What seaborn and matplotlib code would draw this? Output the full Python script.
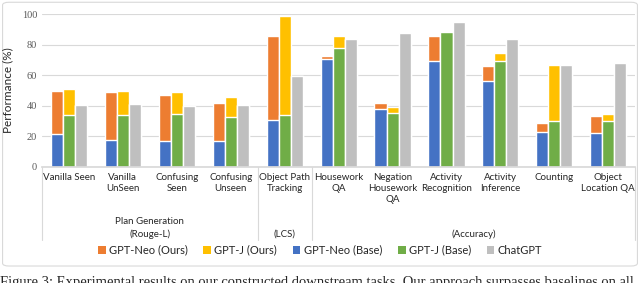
import matplotlib
matplotlib.use("Agg")
import matplotlib.pyplot as plt
import pandas as pd
import seaborn as sns
from matplotlib.patches import FancyBboxPatch, Patch

sns.set_theme(style="white")
plt.rcParams["font.family"] = ["Lato", "DejaVu Sans"]

tasks = [
    "Vanilla Seen", "Vanilla\nUnSeen", "Confusing\nSeen", "Confusing\nUnseen",
    "Object Path\nTracking", "Housework\nQA", "Negation\nHousework\nQA",
    "Activity\nRecognition", "Activity\nInference", "Counting", "Object\nLocation QA",
]
neo_base = [21.4, 17.6, 17.0, 17.2, 30.7, 70.4, 38.1, 69.3, 56.4, 22.7, 22.2]
neo_ours = [49.7, 49.2, 46.9, 42.0, 85.8, 72.3, 41.6, 85.6, 66.0, 28.8, 33.3]
gptj_base = [34.2, 34.2, 34.8, 32.9, 33.8, 78.0, 35.3, 88.0, 69.3, 30.3, 29.9]
gptj_ours = [51.2, 49.9, 48.8, 45.5, 98.7, 85.4, 39.4, 88.7, 74.5, 66.9, 34.6]
chatgpt = [40.5, 41.2, 40.0, 40.7, 59.5, 83.9, 87.8, 95.0, 83.7, 66.5, 67.8]

groups = ["Plan Generation\n(Rouge-L)", "(LCS)", "(Accuracy)"]
group_spans = [(0, 3), (4, 4), (5, 10)]

colors = {
    "GPT-Neo (Ours)": "#ED7D31",
    "GPT-J (Ours)": "#FFC000",
    "GPT-Neo (Base)": "#4472C4",
    "GPT-J (Base)": "#70AD47",
    "ChatGPT": "#BFBFBF",
}

models = ["neo", "gptj", "chat"]
top = pd.DataFrame({
    "task": tasks * 3,
    "model": sum([[m] * len(tasks) for m in models], []),
    "value": neo_ours + gptj_ours + chatgpt,
})
base = pd.DataFrame({
    "task": tasks * 3,
    "model": sum([[m] * len(tasks) for m in models], []),
    "value": neo_base + gptj_base + chatgpt,
})

fig = plt.figure(figsize=(6.4, 2.83), dpi=100)
frame = FancyBboxPatch((0.004, 0.06), 0.992, 0.932, boxstyle="round,pad=0,rounding_size=0.01",
                       transform=fig.transFigure, facecolor="none", edgecolor="#D9D9D9",
                       linewidth=0.8, zorder=-1)
fig.patches.append(frame)

ax = fig.add_axes([0.0656, 0.41, 0.927, 0.5405])
ax.set_facecolor("none")

sns.barplot(data=top, x="task", y="value", hue="model", hue_order=models,
            palette=[colors["GPT-Neo (Ours)"], colors["GPT-J (Ours)"], colors["ChatGPT"]],
            width=0.67, gap=0, saturation=1, errorbar=None, legend=False, ax=ax)
sns.barplot(data=base, x="task", y="value", hue="model", hue_order=models,
            palette=[colors["GPT-Neo (Base)"], colors["GPT-J (Base)"], colors["ChatGPT"]],
            width=0.67, gap=0, saturation=1, errorbar=None, legend=False, ax=ax)

ax.set_ylim(0, 100)
ax.set_xlim(-0.5, len(tasks) - 0.5)
ax.set_yticks(range(0, 101, 20))
ax.yaxis.grid(True, color="#D9D9D9", linewidth=0.8)
ax.set_axisbelow(True)
for s in ["top", "right", "left"]:
    ax.spines[s].set_visible(False)
ax.spines["bottom"].set_color("#D9D9D9")
ax.tick_params(axis="both", length=0)
ax.tick_params(axis="x", pad=4)
for lab in ax.get_yticklabels():
    lab.set_fontfamily("Liberation Serif")
    lab.set_fontsize(7.5)
    lab.set_color("#595959")
for lab in ax.get_xticklabels():
    lab.set_fontsize(7)
    lab.set_linespacing(1.3)
    lab.set_verticalalignment("top")
ax.set_xlabel("")
ax.set_ylabel("Performance (%)", fontsize=8.5, labelpad=6)

xt = ax.get_xaxis_transform()
for xs in [-0.5, 3.5, 4.5, 10.5]:
    ax.plot([xs, xs], [0, -0.477], transform=xt, color="#D9D9D9", linewidth=0.8,
            clip_on=False)
for name, (a, b) in zip(groups, group_spans):
    ax.text((a + b) / 2, -0.47, name, transform=xt, ha="center", va="bottom",
            fontsize=7, linespacing=1.5)

handles = [Patch(facecolor=c, edgecolor="none", label=k) for k, c in colors.items()]
fig.legend(handles=handles, loc="center", bbox_to_anchor=(0.5, 1 - 250 / 283), ncol=5,
           frameon=False, fontsize=8, handlelength=0.7, handleheight=0.7,
           handletextpad=0.3, columnspacing=1.4)

fig.text(0.0, 1 - 286 / 283,
         "Figure 3: Experimental results on our constructed downstream tasks. "
         "Our approach surpasses baselines on all",
         ha="left", va="baseline", fontsize=10.5, family=["Liberation Serif", "DejaVu Serif"])

fig.savefig("out.png", dpi=100)
